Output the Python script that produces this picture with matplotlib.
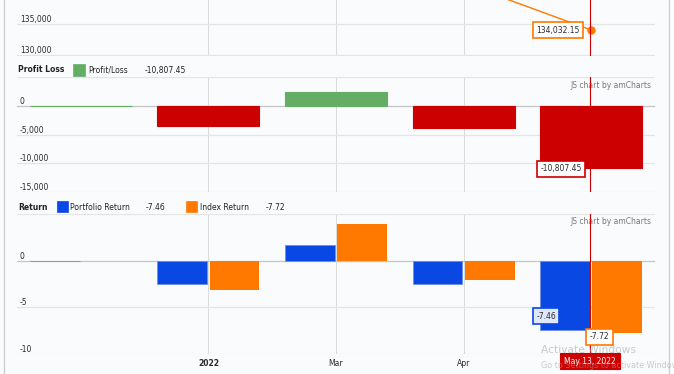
import matplotlib
matplotlib.use('Agg')
import matplotlib.pyplot as plt
from matplotlib.patches import Rectangle
from matplotlib.lines import Line2D

# ---------------- data ----------------
categories = ['Dec 2021', 'Jan 2022', 'Mar 2022', 'Apr 2022', 'May 2022']
tick_positions = [1, 2, 3]
tick_labels = ['2022', 'Mar', 'Apr']
profit_loss = [0.0, -3450.0, 2414.0, -3793.0, -10807.45]
portfolio_return = [0.0, -2.47, 1.72, -2.47, -7.46]
index_return = [0.0, -3.12, 3.98, -2.04, -7.72]
price_pos = [2.0, 3.0, 4.0]
price_values = [149000.0, 141560.0, 134032.15]
cursor_pos = 3.99
cursor_label = 'May 13, 2022'

# ---------------- style ----------------
W, H = 674, 374
BG = '#fafbfd'
GREEN = '#64ad64'
RED = '#cc0000'
BLUE = '#0a48e4'
ORANGE = '#ff7800'
GRID = '#e4e4e4'
ZERO = '#c4c4c4'
VGRID = '#dadada'
FS = 5.5
plt.rcParams['font.family'] = ['DejaVu Sans']

fig = plt.figure(figsize=(W / 100, H / 100), dpi=100, facecolor=BG)


def rect(x0, y0, x1, y1):
    return [x0 / W, 1 - y1 / H, (x1 - x0) / W, (y1 - y0) / H]


def fx(px):
    return px / W


def fy(py):
    return 1 - py / H


XL, XR = 17, 655
ax1 = fig.add_axes(rect(XL, 0, XR, 56))
ax2 = fig.add_axes(rect(XL, 77, XR, 192))
ax3 = fig.add_axes(rect(XL, 214, XR, 354))

n = len(categories)
xs = list(range(n))
for ax in (ax1, ax2, ax3):
    ax.set_facecolor(BG)
    ax.set_xlim(-0.5, n - 0.5)
    for s in ax.spines.values():
        s.set_visible(False)
    ax.set_yticks([])
    ax.set_xticks([])
    for p in tick_positions:
        ax.axvline(p, color=VGRID, lw=0.7, zorder=0)


def ylabels(ax, values, fmt):
    tr = ax.get_yaxis_transform()
    for v in values:
        ax.text(3 / (XR - XL), v, fmt(v), transform=tr, ha='left', va='bottom',
                fontsize=FS, color='#2a2a2a', zorder=5)


# ---------------- panel 1: price ----------------
ax1.set_ylim(129840, 138870)
for v in (130000, 135000):
    ax1.axhline(v, color=GRID, lw=0.9, zorder=0)
ylabels(ax1, [135000, 130000], lambda v: f'{v:,.0f}')
ax1.plot(price_pos, price_values, color=ORANGE, lw=1.0, zorder=3)
ax1.plot(price_pos[-1], price_values[-1], 'o', color=ORANGE, ms=5, zorder=4)
ax1.axvline(cursor_pos, color=RED, lw=0.8, zorder=4)
ax1.annotate(f'{price_values[-1]:,.2f}', xy=(price_pos[-1], price_values[-1]),
             xytext=(-33, 0), textcoords='offset pixels', ha='center', va='center',
             fontsize=FS, color='#2a2a2a', zorder=6,
             bbox=dict(boxstyle='square,pad=0.45', fc='white', ec=ORANGE, lw=1.2))

# ---------------- panel 2: profit / loss ----------------
ax2.set_ylim(-15000, 5000)
for v in (5000, -5000, -10000, -15000):
    ax2.axhline(v, color=GRID, lw=0.9, zorder=0)
ax2.axhline(0, color=ZERO, lw=0.9, zorder=0)
ylabels(ax2, [0, -5000, -10000, -15000], lambda v: f'{v:,.0f}')
pl_colors = [GREEN if v >= 0 else RED for v in profit_loss]
ax2.bar(xs, profit_loss, width=0.8, color=pl_colors, edgecolor=pl_colors,
        lw=0.8, zorder=2)
ax2.axvline(cursor_pos, color=RED, lw=0.8, zorder=4)
ax2.text(0.995, 0.922, 'JS chart by amCharts', transform=ax2.transAxes,
         ha='right', va='center', fontsize=FS, color='#777777')
ax2.annotate(f'{profit_loss[-1]:,.2f}', xy=(cursor_pos, profit_loss[-1]),
             xytext=(-29, -1), textcoords='offset pixels', ha='center', va='center',
             fontsize=FS, color='#2a2a2a', zorder=6,
             bbox=dict(boxstyle='square,pad=0.45', fc='white', ec=RED, lw=1.2))

# ---------------- panel 3: returns ----------------
ax3.set_ylim(-10, 5)
for v in (5, -5, -10):
    ax3.axhline(v, color=GRID, lw=0.9, zorder=0)
ax3.axhline(0, color=ZERO, lw=0.9, zorder=0)
ylabels(ax3, [0, -5, -10], lambda v: f'{v:g}')
off, bw = 0.205, 0.39
ax3.bar([x - off for x in xs], portfolio_return, width=bw, color=BLUE,
        edgecolor='#6f8fe6', lw=0.6, zorder=2)
ax3.bar([x + off for x in xs], index_return, width=bw, color=ORANGE,
        edgecolor='none', lw=0, zorder=2)
ax3.axvline(cursor_pos, color=RED, lw=0.8, zorder=4)
ax3.text(0.995, 0.943, 'JS chart by amCharts', transform=ax3.transAxes,
         ha='right', va='center', fontsize=FS, color='#777777')
ax3.annotate(f'{portfolio_return[-1]:.2f}', xy=(n - 1 - off, portfolio_return[-1]),
             xytext=(-19, 14), textcoords='offset pixels', ha='center', va='center',
             fontsize=FS, color='#2a2a2a', zorder=6,
             bbox=dict(boxstyle='square,pad=0.45', fc='#dfe7fb', ec=BLUE, lw=1.2))
ax3.annotate(f'{index_return[-1]:.2f}', xy=(n - 1 + off, index_return[-1]),
             xytext=(-18, -4), textcoords='offset pixels', ha='center', va='center',
             fontsize=FS, color='#2a2a2a', zorder=6,
             bbox=dict(boxstyle='square,pad=0.45', fc='white', ec=ORANGE, lw=1.2))
# x axis labels
tr = ax3.get_xaxis_transform() + matplotlib.transforms.ScaledTranslation(
    0, -10 / 100, fig.dpi_scale_trans)
for p, lab in zip(tick_positions, tick_labels):
    ax3.text(p, 0, lab, transform=tr, ha='center', va='center',
             fontsize=FS, color='#2a2a2a',
             fontweight='bold' if lab == '2022' else 'normal')
ax3.annotate(cursor_label, xy=(cursor_pos, 0), xycoords=('data', 'axes fraction'),
             xytext=(0, -7), textcoords='offset pixels', ha='center', va='center',
             fontsize=FS, color='white', zorder=7, annotation_clip=False,
             bbox=dict(boxstyle='square,pad=0.5', fc=RED, ec=RED, lw=0.8))

# ---------------- legends ----------------
def legend_text(x, y, s, bold=False):
    fig.text(fx(x), fy(y), s, ha='left', va='center', fontsize=FS,
             color='#222222', fontweight='bold' if bold else 'normal')


def swatch(x0, y0, x1, y1, c):
    fig.add_artist(Rectangle((fx(x0), fy(y1)), (x1 - x0) / W, (y1 - y0) / H,
                             transform=fig.transFigure, fc=c, ec=c, lw=0.5))


legend_text(18, 70, 'Profit Loss', bold=True)
swatch(73, 64, 85, 76, GREEN)
legend_text(88, 70, 'Profit/Loss')
legend_text(145, 70, f'{profit_loss[-1]:,.2f}')

legend_text(18, 207, 'Return', bold=True)
swatch(57, 201, 68, 212, BLUE)
legend_text(70, 207, 'Portfolio Return')
legend_text(146, 207, f'{portfolio_return[-1]:.2f}')
swatch(186, 201, 197, 212, ORANGE)
legend_text(200, 207, 'Index Return')
legend_text(266, 207, f'{index_return[-1]:.2f}')

# ---------------- frame ----------------
fig.add_artist(Rectangle((fx(668.5), 0), (W - 668.5) / W, 1, transform=fig.transFigure,
                         fc='white', ec='none'))
for px in (3.5, 668.5):
    fig.add_artist(Line2D([fx(px), fx(px)], [0, 1], transform=fig.transFigure,
                          color='#cfcfcf', lw=1.0))

# watermark as seen in the screenshot
fig.text(fx(541), fy(350), 'Activate Windows', ha='left', va='center', fontsize=7.7,
         color='#a0a0a0', alpha=0.55, zorder=20)
fig.text(fx(541), fy(365), 'Go to Settings to activate Windows', ha='left', va='center',
         fontsize=5.8, color='#a0a0a0', alpha=0.55, zorder=20)

fig.savefig('out.png', dpi=100, facecolor=BG)
